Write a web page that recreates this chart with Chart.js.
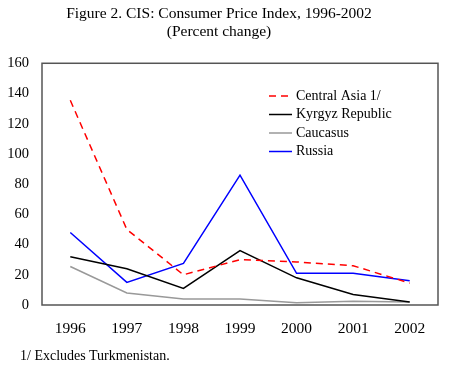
<!DOCTYPE html>
<html>
<head>
<meta charset="utf-8">
<script src="https://cdn.jsdelivr.net/npm/chart.js@4/dist/chart.umd.min.js"></script>
<style>
  html, body { margin: 0; padding: 0; background: #fff; }
  #wrap { position: relative; width: 450px; height: 378px; }
  #foot { position: absolute; left: 20px; top: 348px; font: 14px "Liberation Serif", serif; color: #000; line-height: 16px; }
</style>
</head>
<body>
<div id="wrap">
  <canvas id="c" width="450" height="378"></canvas>
  <div id="foot">1/ Excludes Turkmenistan.</div>
</div>
<script>
const years = ['1996', '1997', '1998', '1999', '2000', '2001', '2002'];
const centralAsia = [135.5, 50, 20, 30, 28.5, 26, 14.5];
const kyrgyz = [32, 24, 11, 36, 18, 7, 2];
const caucasus = [25.5, 8, 4, 4, 1.5, 2.5, 2];
const russia = [48, 15, 27.5, 86, 21, 21, 16];
const yTicks = [0, 20, 40, 60, 80, 100, 120, 140, 160];
const titleLines = ['Figure 2. CIS: Consumer Price Index, 1996-2002', '(Percent change)'];

const SERIF = '"Liberation Serif", "Times New Roman", serif';

const frame = {
  id: 'frame',
  afterDraw(chart) {
    const a = chart.chartArea, ctx = chart.ctx;
    ctx.save();
    ctx.strokeStyle = '#555';
    ctx.lineWidth = 1.5;
    ctx.strokeRect(a.left, a.top, a.right - a.left, a.bottom - a.top);
    ctx.restore();
  }
};

const innerLegend = {
  id: 'innerLegend',
  afterDraw(chart) {
    const ctx = chart.ctx;
    ctx.save();
    ctx.font = '14px ' + SERIF;
    ctx.textBaseline = 'middle';
    ctx.textAlign = 'left';
    const x0 = 269, x1 = 292, tx = 296;
    let y = 96;
    chart.data.datasets.forEach(ds => {
      ctx.strokeStyle = ds.borderColor;
      ctx.lineWidth = ds.borderWidth;
      ctx.setLineDash(ds.borderDash || []);
      ctx.beginPath();
      ctx.moveTo(x0, y);
      ctx.lineTo(x1, y);
      ctx.stroke();
      ctx.setLineDash([]);
      ctx.fillStyle = '#000';
      ctx.fillText(ds.label, tx, y);
      y += 18.5;
    });
    ctx.restore();
  }
};

new Chart(document.getElementById('c'), {
  type: 'line',
  data: {
    labels: years,
    datasets: [
      { label: 'Central Asia 1/', data: centralAsia, borderColor: '#ff0000', borderWidth: 1.5, borderDash: [7, 5], pointRadius: 0, tension: 0 },
      { label: 'Kyrgyz Republic', data: kyrgyz, borderColor: '#000000', borderWidth: 1.5, pointRadius: 0, tension: 0 },
      { label: 'Caucasus', data: caucasus, borderColor: '#999999', borderWidth: 1.5, pointRadius: 0, tension: 0 },
      { label: 'Russia', data: russia, borderColor: '#0000ff', borderWidth: 1.5, pointRadius: 0, tension: 0 }
    ]
  },
  options: {
    responsive: false,
    animation: false,
    devicePixelRatio: 1,
    layout: { padding: { left: 0, right: 12, top: 0, bottom: 40 } },
    plugins: {
      legend: { display: false },
      tooltip: { enabled: false },
      title: {
        display: true,
        text: titleLines,
        color: '#000',
        font: { family: SERIF, size: 15.5, weight: 'normal', lineHeight: 1.17 },
        padding: { top: 5, bottom: 22 }
      }
    },
    scales: {
      x: {
        offset: true,
        grid: { display: false, drawTicks: false },
        border: { display: false },
        ticks: { color: '#000', font: { family: SERIF, size: 15.5 }, padding: 15, maxRotation: 0 },
        afterFit(s) { s.height = 33; }
      },
      y: {
        min: 0, max: 160,
        afterBuildTicks(s) { s.ticks = yTicks.map(v => ({ value: v })); },
        grid: { display: false, drawTicks: false },
        border: { display: false },
        ticks: { color: '#000', font: { family: SERIF, size: 14.5 }, padding: 13 },
        afterFit(s) { s.width = 42; }
      }
    }
  },
  plugins: [frame, innerLegend]
});
</script>
</body>
</html>
